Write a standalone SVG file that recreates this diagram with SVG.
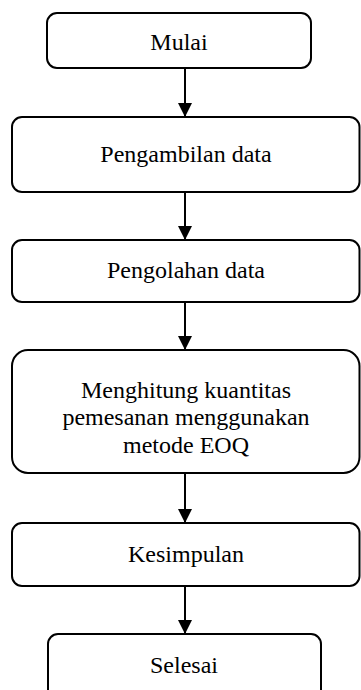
<svg xmlns="http://www.w3.org/2000/svg" width="361" height="690" viewBox="0 0 361 690">
<defs>
<style>
.box{fill:#fff;stroke:#000;stroke-width:2}
.t{font-size:24px;fill:#000;text-anchor:middle}
.c{stroke:#000;stroke-width:2;fill:none}
</style>
<marker id="ah" markerUnits="userSpaceOnUse" markerWidth="14" markerHeight="15" refX="13" refY="7" orient="auto">
<path d="M0,0 L14,7 L0,14 Z" fill="#000"/>
</marker>
</defs>
<rect width="361" height="690" fill="#fff"/>
<g id="connectors">
<line class="c" x1="185" y1="68" x2="185" y2="116" marker-end="url(#ah)"/>
<line class="c" x1="185" y1="192" x2="185" y2="239" marker-end="url(#ah)"/>
<line class="c" x1="185" y1="302" x2="185" y2="349" marker-end="url(#ah)"/>
<line class="c" x1="185" y1="473" x2="185" y2="522" marker-end="url(#ah)"/>
<line class="c" x1="185" y1="586" x2="185" y2="633" marker-end="url(#ah)"/>
</g>
<g font-family="'Liberation Serif', 'Times New Roman', Times, serif">
<g id="mulai">
<rect class="box" x="47" y="13" width="264" height="55" rx="10"/>
<text class="t" x="179" y="50">Mulai</text>
</g>
<g id="pengambilan">
<rect class="box" x="12" y="117" width="347.5" height="75" rx="10"/>
<text class="t" x="186" y="162">Pengambilan data</text>
</g>
<g id="pengolahan">
<rect class="box" x="12" y="240" width="347.5" height="62" rx="10"/>
<text class="t" x="186" y="278">Pengolahan data</text>
</g>
<g id="menghitung">
<rect class="box" x="12" y="350" width="347.5" height="123" rx="16"/>
<text class="t" x="186" y="398">Menghitung kuantitas</text>
<text class="t" x="186" y="425">pemesanan menggunakan</text>
<text class="t" x="186" y="453">metode EOQ</text>
</g>
<g id="kesimpulan">
<rect class="box" x="12" y="523" width="347.5" height="63" rx="10"/>
<text class="t" x="186" y="562">Kesimpulan</text>
</g>
<g id="selesai">
<rect class="box" x="48" y="634" width="273" height="70" rx="10"/>
<text class="t" x="184" y="673">Selesai</text>
</g>
</g>
</svg>
